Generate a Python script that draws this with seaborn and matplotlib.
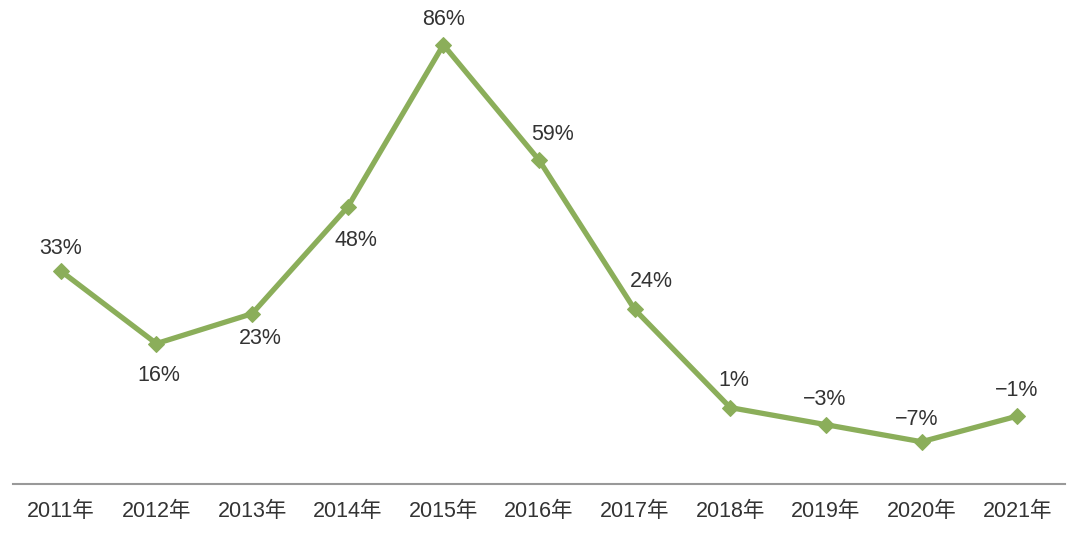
import pandas as pd
import seaborn as sns
from matplotlib import pyplot as plt

# 数据
years = ['2011年', '2012年', '2013年', '2014年', '2015年', '2016年',
         '2017年', '2018年', '2019年', '2020年', '2021年']
growth = [33, 16, 23, 48, 86, 59, 24, 1, -3, -7, -1]

# 标签偏移（像素）
label_dx = [0, 2, 8, 8, 0, 14, 17, 4, -1, -5, -1]
label_dy = [23, -32, -25, -33, 25, 26, 28, 27, 25, 22, 26]

sns.set_theme(style='white')
plt.rcParams['font.family'] = ['Liberation Sans', 'Noto Sans CJK SC', 'DejaVu Sans']

df = pd.DataFrame({'x': range(len(years)), 'y': growth})

fig = plt.figure(figsize=(10.8, 5.33), dpi=100)
ax = fig.add_axes([13 / 1080, 1 - 484 / 533, 1052 / 1080, 484 / 533])

green = '#8bae5a'
sns.lineplot(data=df, x='x', y='y', ax=ax, color=green, linewidth=3.8,
             marker='D', markersize=8.5, markeredgecolor=green)

for i, v in enumerate(growth):
    txt = f'{v}%'.replace('-', '\u2212')
    ax.annotate(txt, (i, v), xytext=(label_dx[i], label_dy[i]),
                textcoords='offset pixels', ha='center', va='center',
                fontsize=15.5, color='#333333')

ax.set_xlim(-0.5, len(years) - 0.5)
ax.set_ylim(-16.9, 96.5)
ax.set_xticks(range(len(years)))
ax.set_xticklabels(years, fontsize=15.5, color='#333333')
ax.set_yticks([])
ax.set_xlabel('')
ax.set_ylabel('')
ax.tick_params(axis='x', length=0, pad=12)
for s in ['top', 'left', 'right']:
    ax.spines[s].set_visible(False)
ax.spines['bottom'].set_color('#999999')
ax.spines['bottom'].set_linewidth(1.5)

fig.savefig('out.png', dpi=100)
